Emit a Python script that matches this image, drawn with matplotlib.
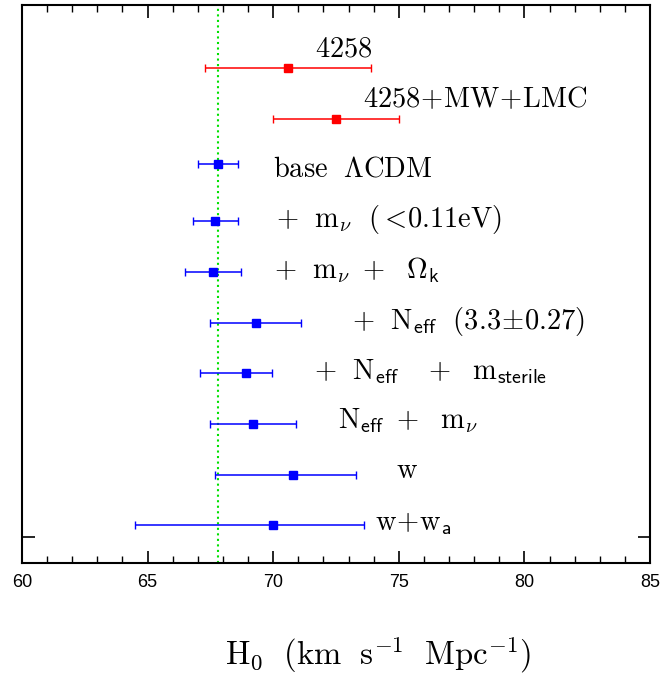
import numpy as np
import matplotlib.pyplot as plt

plt.rcParams['mathtext.fontset'] = 'cm'

# H0 measurements (km/s/Mpc): central value, lower and upper error
labels = [r'$\mathrm{4258}$',
          r'$\mathrm{4258\!+\!MW\!+\!LMC}$',
          r'$\mathrm{base}\ \ \Lambda\mathrm{CDM}$',
          r'$+\ \ \mathrm{m}_{\nu}\ \ (<\!0.11\mathrm{eV})$',
          r'$+\ \ \mathrm{m}_{\nu}\ +\ \ \Omega_{\mathsf{k}}$',
          r'$+\ \ \mathrm{N}_{\mathsf{eff}}\ \ (3.3\!\pm\!0.27)$',
          r'$+\ \ \mathrm{N}_{\mathsf{eff}}\ \ \ +\ \ \mathrm{m}_{\mathsf{sterile}}$',
          r'$\mathrm{N}_{\mathsf{eff}}\ +\ \ \mathrm{m}_{\nu}$',
          r'$\mathrm{w}$',
          r'$\mathrm{w\!+\!w}_{\mathsf{a}}$']
h0 = [70.6, 72.5, 67.8, 67.7, 67.6, 69.3, 68.9, 69.2, 70.8, 70.0]
err_lo = [3.3, 2.5, 0.8, 0.9, 1.1, 1.8, 1.8, 1.7, 3.1, 5.5]
err_hi = [3.3, 2.5, 0.8, 0.9, 1.1, 1.8, 1.05, 1.7, 2.5, 3.6]
colors = ['red', 'red'] + ['blue'] * 8
planck_h0 = 67.8

# vertical row of each entry and where its label sits
rows = [10.02, 9.02, 8.13, 7.0, 6.0, 5.0, 4.0, 3.0, 2.0, 1.0]
label_x = [71.66, 73.57, 69.99, 70.11, 70.03, 73.14, 71.61, 72.57, 74.9, 74.05]
label_y = [10.24, 9.25, 7.89, 6.88, 5.87, 4.88, 3.89, 2.92, 1.93, 0.91]

fig = plt.figure(figsize=(6.62, 6.77), dpi=100)
ax = fig.add_axes([0.0332, 0.1684, 0.9488, 0.8246])

ax.axvline(planck_h0, color='#00e000', linestyle=':', linewidth=1.5, zorder=1)

for i in range(len(h0)):
    ax.errorbar(h0[i], rows[i], xerr=[[err_lo[i]], [err_hi[i]]], fmt='s',
                color=colors[i], markersize=5.5, capsize=3, elinewidth=1.1,
                capthick=1.0, zorder=3)
    ax.text(label_x[i], label_y[i], labels[i], fontsize=20.5, va='baseline',
            ha='left')

ax.set_xlim(60, 85)
ax.set_ylim(0.255, 11.27)
ax.set_xticks(np.arange(60, 86, 5))
ax.set_xticks(np.arange(60, 86, 1), minor=True)
ax.set_yticks([0.77])
ax.set_yticklabels([])
ax.tick_params(axis='both', which='major', direction='in', top=True,
               right=True, length=9, width=1.2)
ax.tick_params(axis='x', which='minor', direction='in', top=True,
               length=5, width=1.0)
ax.tick_params(axis='x', labelsize=13, pad=8)
for lab in ax.get_xticklabels():
    lab.set_family('Liberation Sans')
for sp in ax.spines.values():
    sp.set_linewidth(1.5)

fig.text(0.571, 0.018, r'$\mathrm{H}_0\ \ (\mathrm{km\ \ s}^{-1}\ \ \mathrm{Mpc}^{-1})$',
         fontsize=23.5, ha='center', va='baseline')

fig.savefig('out.png', dpi=100)
